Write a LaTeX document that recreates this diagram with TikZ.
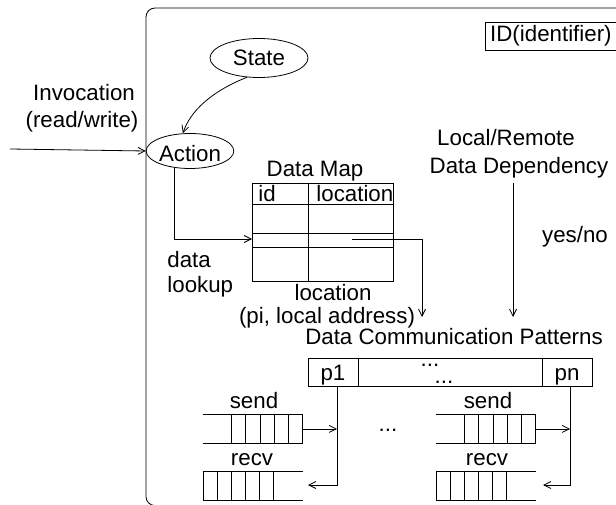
\documentclass[tikz,border=0pt]{standalone}
\usepackage{fontspec}
\setmainfont{Liberation Sans}
\usetikzlibrary{arrows.meta,shapes.geometric}
\begin{document}
\begin{tikzpicture}[x=1pt,y=-1pt,line width=0.8pt,
  every node/.style={font=\fontsize{22.3}{26}\selectfont,inner sep=0pt},
  arr/.style={-{Straight Barb[length=7pt,width=7pt]}},
  txt/.style={anchor=base},
  txtl/.style={anchor=base west},
  oval/.style={draw,ellipse,inner sep=0pt},
  queue/.style={minimum width=99pt,minimum height=29pt,anchor=north west}]
\useasboundingbox (0,0) rectangle (616,505);

% outer frame of the object
\draw[rounded corners=9pt] (640,8) -- (146,8) -- (146,505.6) -- (640,505.6);

% identifier box
\node[draw,minimum width=131pt,minimum height=28pt,anchor=north west,
      text height=16pt,text depth=5pt] (id) at (485,22) {ID(identifier)};

% state and action
\node[oval,minimum width=98pt,minimum height=39pt] (state) at (259,58) {State};
\node[oval,minimum width=86pt,minimum height=35pt,text height=22pt,text depth=0pt]
  (action) at (190,151) {Action};

% invocation
\node[txt] (inv) at (84,101) {Invocation};
\node[txt] (rw) at (82,128) {(read/write)};
\coordinate (in) at (10,149);
\draw[arr] (in) -- (action.west);
\draw[arr] (state.238) .. controls (210,92) and (190,112) .. (action.112);

% data map table
\node[txt] (dmt) at (315,177) {Data Map};
\node[draw,minimum width=141pt,minimum height=98pt,anchor=north west] (map) at (252,183) {};
\draw (308,183) -- (308,281);
\draw (252,204) -- (393,204);
\draw (252,233) -- (393,233);
\draw (252,247) -- (393,247);
\node[txtl] (cid) at (258,202) {id};
\node[txtl] (cloc) at (316,202) {location};

% lookup from the action into the map
\coordinate (alow) at (174,168);
\coordinate (slot) at (252,239);
\draw[arr] (alow) |- (slot);
\node[txtl] (dat) at (167,268) {data};
\node[txtl] (lku) at (167,293) {lookup};

% location result
\coordinate (hit) at (352,239);
\coordinate (locend) at (422,317);
\draw[arr] (hit) -| (locend);
\node[txt] (loc) at (333,300) {location};
\node[txt] (pla) at (327,323) {(pi, local address)};

% local / remote dependency
\node[txt] (lr) at (506,146) {Local/Remote};
\node[txt] (dd) at (519,174) {Data Dependency};
\coordinate (ddtop) at (513,183);
\coordinate (ddend) at (513,317);
\draw[arr] (ddtop) -- (ddend);
\node[txt] (yn) at (575,243) {yes/no};

% communication patterns
\node[txt] (dcp) at (454,344) {Data Communication Patterns};
\node[draw,minimum width=284pt,minimum height=28pt,anchor=north west] (pat) at (308,358) {};
\draw (358,358) -- (358,386);
\draw (542,358) -- (542,386);
\node[txt] (p1) at (333,380) {p1};
\node[txt] (pn) at (567,380) {pn};
\node[txt] (dots1) at (430,366) {...};
\node[txt] (dots2) at (444,383) {...};
\node[txt] (dots3) at (388,431) {...};

% send / receive queues
\node[queue] (sendA) at (203,414) {};
\node[queue] (recvA) at (203,471) {};
\node[queue] (sendB) at (436,414) {};
\node[queue] (recvB) at (436,471) {};
\foreach \q in {sendA,recvA,sendB,recvB}{
  \draw (\q.north west) -- (\q.north east);
  \draw (\q.south west) -- (\q.south east);
}
\foreach \i in {0,...,5}{
  \draw ([xshift=-\i*14.3pt]sendA.north east) -- ([xshift=-\i*14.3pt]sendA.south east);
  \draw ([xshift=-\i*14.3pt]sendB.north east) -- ([xshift=-\i*14.3pt]sendB.south east);
  \draw ([xshift=\i*14.1pt]recvA.north west) -- ([xshift=\i*14.1pt]recvA.south west);
  \draw ([xshift=\i*14.1pt]recvB.north west) -- ([xshift=\i*14.1pt]recvB.south west);
}
\node[txt] (sA) at (254,408) {send};
\node[txt] (rA) at (252,465) {recv};
\node[txt] (sB) at (488,408) {send};
\node[txt] (rB) at (487,465) {recv};

% links between the pattern slots and the queues
\coordinate (p1c) at (337,386);
\coordinate (pnc) at (570,386);
\draw[arr] (sendA.east) -- (sendA.east -| p1c);
\draw[arr] (sendB.east) -- (sendB.east -| pnc);
\draw[arr] (p1c) -- (p1c |- 0,485) -- (308,485);
\draw[arr] (pnc) -- (pnc |- 0,485) -- (543,485);
\end{tikzpicture}
\end{document}
